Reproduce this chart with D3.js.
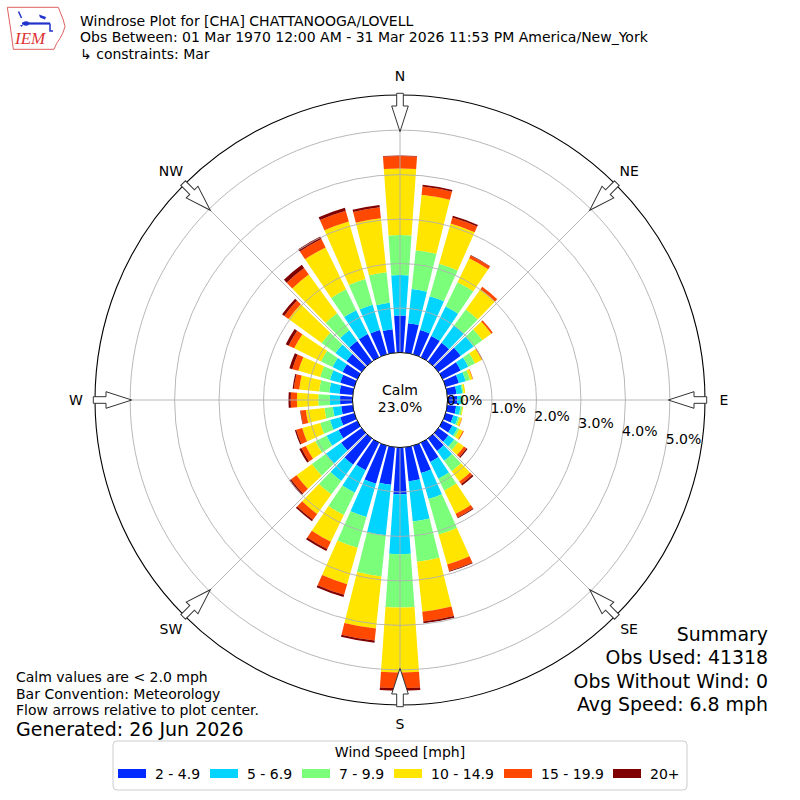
<!DOCTYPE html>
<html>
<head>
<meta charset="utf-8">
<script src="https://cdn.jsdelivr.net/npm/d3@7"></script>
<style>
  body { margin: 0; background: #fff; }
  svg text { font-family: "DejaVu Sans", sans-serif; fill: #000; }
</style>
</head>
<body>
<div id="chart"></div>
<script>
// Width and height
let w = 800;
let h = 800;
let cx = 400;
let cy = 400;

// Directions (degrees, meteorological)
let directions = [0, 10, 20, 30, 40, 50, 60, 70, 80, 90, 100, 110, 120, 130, 140, 150, 160, 170,
                  180, 190, 200, 210, 220, 230, 240, 250, 260, 270, 280, 290, 300, 310, 320, 330, 340, 350];

// Frequency (%) per direction for each speed bin
let speed2to5   = [0.83, 0.67, 0.57, 0.53, 0.52, 0.62, 0.45, 0.31, 0.21, 0.22, 0.20, 0.18, 0.24, 0.28, 0.35, 0.48, 0.64, 0.77,
                   1.05, 0.85, 0.89, 0.69, 0.73, 0.57, 0.47, 0.33, 0.26, 0.28, 0.30, 0.33, 0.37, 0.42, 0.57, 0.58, 0.57, 0.53];
let speed5to7   = [0.91, 0.77, 0.79, 0.74, 0.48, 0.36, 0.19, 0.16, 0.13, 0.10, 0.10, 0.11, 0.13, 0.16, 0.27, 0.42, 0.61, 0.91,
                   1.35, 1.14, 0.78, 0.56, 0.45, 0.42, 0.30, 0.24, 0.19, 0.23, 0.23, 0.24, 0.25, 0.31, 0.30, 0.60, 0.59, 0.60];
let speed7to10  = [0.90, 0.88, 0.76, 0.61, 0.45, 0.24, 0.17, 0.10, 0.03, 0.02, 0.04, 0.04, 0.05, 0.11, 0.29, 0.30, 0.83, 0.91,
                   1.20, 0.93, 0.72, 0.56, 0.38, 0.39, 0.28, 0.23, 0.19, 0.26, 0.23, 0.23, 0.29, 0.38, 0.47, 0.52, 0.60, 0.69];
let speed10to15 = [1.50, 1.25, 0.94, 0.60, 0.56, 0.25, 0.17, 0.06, 0.04, 0.02, 0.02, 0.05, 0.09, 0.16, 0.29, 0.58, 0.70, 1.13,
                   1.46, 1.18, 0.85, 0.67, 0.54, 0.43, 0.24, 0.42, 0.42, 0.48, 0.45, 0.51, 0.67, 0.92, 1.08, 1.05, 1.35, 1.22];
let speed15to20 = [0.28, 0.19, 0.14, 0.07, 0.07, 0.04, 0.02, 0.01, 0.00, 0.00, 0.00, 0.01, 0.02, 0.07, 0.07, 0.09, 0.15, 0.22,
                   0.35, 0.27, 0.25, 0.18, 0.16, 0.15, 0.11, 0.14, 0.12, 0.14, 0.12, 0.14, 0.14, 0.12, 0.18, 0.21, 0.25, 0.25];
let speed20plus = [0.01, 0.04, 0.04, 0.01, 0.00, 0.00, 0.00, 0.00, 0.00, 0.00, 0.00, 0.00, 0.00, 0.03, 0.04, 0.02, 0.02, 0.04,
                   0.06, 0.05, 0.05, 0.05, 0.04, 0.05, 0.05, 0.03, 0.01, 0.05, 0.03, 0.07, 0.07, 0.06, 0.09, 0.06, 0.07, 0.05];

let binLabels = ["2 - 4.9", "5 - 6.9", "7 - 9.9", "10 - 14.9", "15 - 19.9", "20+"];
let binColors = ["#002aff", "#00d4ff", "#7bff7b", "#ffe500", "#ff4800", "#800000"];
let radialTicks = [1, 2, 3, 4, 5];
let compassLabels = ["N", "NE", "E", "SE", "S", "SW", "W", "NW"];
let compassAngles = [0, 45, 90, 135, 180, 225, 270, 315];
let calmPct = 23.0;

let titleLines = ["Windrose Plot for [CHA] CHATTANOOGA/LOVELL",
                  "Obs Between: 01 Mar 1970 12:00 AM - 31 Mar 2026 11:53 PM America/New_York",
                  "\u21b3 constraints: Mar"];
let noteLines = ["Calm values are < 2.0 mph", "Bar Convention: Meteorology", "Flow arrows relative to plot center."];
let summaryLines = ["Summary", "Obs Used: 41318", "Obs Without Wind: 0", "Avg Speed: 6.8 mph"];

// Build table for the stack
let keys = ["b0", "b1", "b2", "b3", "b4", "b5"];
let series = [speed2to5, speed5to7, speed7to10, speed10to15, speed15to20, speed20plus];
let table = directions.map((d, i) => {
    let row = {dir: d};
    keys.forEach((k, j) => { row[k] = series[j][i]; });
    return row;
});
let stacked = d3.stack().keys(keys)(table);

// Radial scale: 0% sits on the calm circle
let rInner = 47.5;
let rOuter = 305;
let r = d3.scaleLinear().domain([0, 5.79]).range([rInner, rOuter]);
let toRad = d => d * Math.PI / 180;
let halfWidth = 4; // degrees

let color = d3.scaleOrdinal().domain(keys).range(binColors);

// Create SVG
let svg = d3.select("#chart")
    .append("svg")
    .attr("width", w)
    .attr("height", h);

let plot = svg.append("g").attr("transform", `translate(${cx},${cy})`);

// Bars
let arc = d3.arc()
    .innerRadius(d => r(d[0]))
    .outerRadius(d => r(d[1]))
    .startAngle(d => toRad(d.data.dir - halfWidth))
    .endAngle(d => toRad(d.data.dir + halfWidth));

plot.selectAll("g.layer")
    .data(stacked)
    .join("g")
    .attr("class", "layer")
    .attr("fill", d => color(d.key))
    .selectAll("path")
    .data(d => d.filter(p => p[1] - p[0] > 0))
    .join("path")
    .attr("d", arc);

// Grid circles and spokes on top of the bars
plot.selectAll("circle.grid")
    .data(radialTicks)
    .join("circle")
    .attr("class", "grid")
    .attr("r", d => r(d))
    .attr("fill", "none")
    .attr("stroke", "#b0b0b0")
    .attr("stroke-width", 0.9);

plot.selectAll("line.spoke")
    .data(compassAngles)
    .join("line")
    .attr("class", "spoke")
    .attr("x1", 0).attr("y1", 0)
    .attr("x2", d => rOuter * Math.sin(toRad(d)))
    .attr("y2", d => -rOuter * Math.cos(toRad(d)))
    .attr("stroke", "#b0b0b0")
    .attr("stroke-width", 0.9);

// Outer frame
plot.append("circle")
    .attr("r", rOuter)
    .attr("fill", "none")
    .attr("stroke", "#000")
    .attr("stroke-width", 1.1);

// Calm circle
plot.append("circle")
    .attr("r", rInner)
    .attr("fill", "#fff")
    .attr("stroke", "#000")
    .attr("stroke-width", 1);

plot.append("text")
    .attr("text-anchor", "middle")
    .attr("y", -5)
    .style("font-size", "14px")
    .text("Calm");
plot.append("text")
    .attr("text-anchor", "middle")
    .attr("y", 12)
    .style("font-size", "14px")
    .text(calmPct.toFixed(1) + "%");

// Radial tick labels along 100 degrees
let labelAngle = toRad(100);
plot.selectAll("text.rtick")
    .data([0].concat(radialTicks))
    .join("text")
    .attr("class", "rtick")
    .attr("x", d => r(d) * Math.sin(labelAngle))
    .attr("y", d => -r(d) * Math.cos(labelAngle) - 3)
    .style("font-size", "14px")
    .text(d => d.toFixed(1) + "%");

// Flow arrows (pointing inward)
let arrowPts = [[-3.3, -306.7], [3.3, -306.7], [3.3, -294], [8.3, -294], [0, -268.3], [-8.3, -294], [-3.3, -294]];
plot.selectAll("path.arrow")
    .data(compassAngles)
    .join("path")
    .attr("class", "arrow")
    .attr("d", "M" + arrowPts.map(p => p.join(",")).join("L") + "Z")
    .attr("transform", d => `rotate(${d})`)
    .attr("fill", "#fff")
    .attr("stroke", "#333")
    .attr("stroke-width", 1);

// Compass labels
plot.selectAll("text.compass")
    .data(compassLabels)
    .join("text")
    .attr("class", "compass")
    .attr("x", (d, i) => 324 * Math.sin(toRad(compassAngles[i])))
    .attr("y", (d, i) => -324 * Math.cos(toRad(compassAngles[i])) + 5)
    .attr("text-anchor", "middle")
    .style("font-size", "14px")
    .text(d => d);

// Title
svg.selectAll("text.title")
    .data(titleLines)
    .join("text")
    .attr("class", "title")
    .attr("x", 80)
    .attr("y", (d, i) => 26 + i * 16.3)
    .style("font-size", "14px")
    .text(d => d);

// IEM logo
let logo = svg.append("g").attr("class", "logo");
logo.append("path")
    .attr("d", "M7.3,7.3 L58.3,7.3 L63.3,20 L65,26.7 L62.7,33.3 L60,38.3 L56.7,43.3 L54,49.3 L13.3,49.3 L11.7,36.7 L10,25 Z")
    .attr("fill", "none")
    .attr("stroke", "#e06060")
    .attr("stroke-width", 1);
logo.append("line").attr("x1", 22).attr("y1", 23.5).attr("x2", 50).attr("y2", 23.5)
    .attr("stroke", "#2233cc").attr("stroke-width", 2.2);
logo.append("ellipse").attr("cx", 26).attr("cy", 23.5).attr("rx", 3).attr("ry", 2.2).attr("fill", "#2233cc");
logo.append("line").attr("x1", 18.5).attr("y1", 11.5).attr("x2", 21.5).attr("y2", 18)
    .attr("stroke", "#2233cc").attr("stroke-width", 1.5);
logo.append("path").attr("d", "M20,25 L23,25 L21.5,27 Z").attr("fill", "#2233cc");
logo.append("path").attr("d", "M39,14.5 L46,17 L45,19.5 L40,17.5 Z").attr("fill", "#2233cc");
logo.append("path").attr("d", "M50,23.5 L50,31 L53,31").attr("fill", "none")
    .attr("stroke", "#2233cc").attr("stroke-width", 1.5);
logo.append("text")
    .attr("x", 15)
    .attr("y", 43.5)
    .style("font-family", "'Liberation Serif', serif")
    .style("font-style", "italic")
    .style("font-size", "17px")
    .style("fill", "#dd3333")
    .text("IEM");

// Notes bottom left
svg.selectAll("text.note")
    .data(noteLines)
    .join("text")
    .attr("class", "note")
    .attr("x", 16)
    .attr("y", (d, i) => 682 + i * 16.5)
    .style("font-size", "14px")
    .text(d => d);

svg.append("text")
    .attr("x", 16)
    .attr("y", 736)
    .style("font-size", "19px")
    .text("Generated: 26 Jun 2026");

// Summary bottom right
svg.selectAll("text.summary")
    .data(summaryLines)
    .join("text")
    .attr("class", "summary")
    .attr("x", 768)
    .attr("y", (d, i) => 641 + i * 23.3)
    .attr("text-anchor", "end")
    .style("font-size", "18.9px")
    .text(d => d);

// Legend
let legend = svg.append("g").attr("class", "legend");
legend.append("rect")
    .attr("x", 113).attr("y", 741)
    .attr("width", 574).attr("height", 49)
    .attr("rx", 4)
    .attr("fill", "#fff")
    .attr("stroke", "#cccccc");
legend.append("text")
    .attr("x", 400).attr("y", 757)
    .attr("text-anchor", "middle")
    .style("font-size", "14px")
    .text("Wind Speed [mph]");

let patchX = [118, 210, 302, 394, 504, 613];
let entry = legend.selectAll("g.entry")
    .data(binLabels)
    .join("g")
    .attr("class", "entry")
    .attr("transform", (d, i) => `translate(${patchX[i]},0)`);
entry.append("rect")
    .attr("x", 0).attr("y", 769)
    .attr("width", 28).attr("height", 9)
    .attr("fill", (d, i) => binColors[i]);
entry.append("text")
    .attr("x", 37).attr("y", 778.5)
    .style("font-size", "14px")
    .text(d => d);
</script>
</body>
</html>
